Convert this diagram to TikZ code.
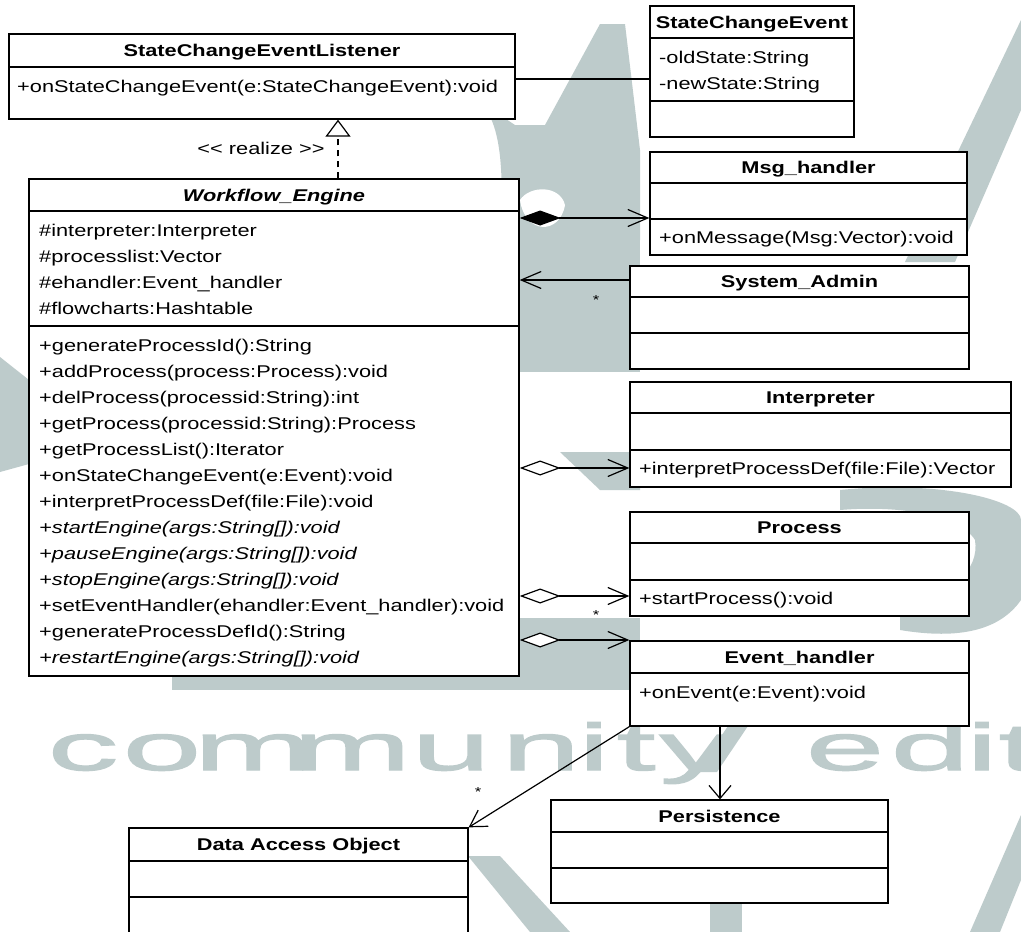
\documentclass[tikz,border=0pt]{standalone}
\usepackage{fontspec}
\setmainfont{Liberation Sans}[FakeStretch=1.28]
\newfontfamily\wmfont{Liberation Sans}[FakeStretch=2.15, FakeBold=2]
\usetikzlibrary{arrows.meta,fit}
\definecolor{wm}{RGB}{189,203,203}

\tikzset{
  cls/.style={draw, line width=1.3pt, inner sep=0pt, fill=white},
  sep/.style={line width=1.3pt},
  title/.style={font=\fontsize{17}{20}\selectfont\bfseries, anchor=base, inner sep=0pt},
  member/.style={font=\fontsize{17}{20}\selectfont, anchor=base west, inner sep=0pt},
  abstract/.style={member, font=\fontsize{17}{20}\selectfont\itshape},
  mult/.style={font=\fontsize{13}{14}\selectfont, inner sep=0pt},
  conn/.style={line width=1.2pt},
  barbh/.style={conn, -{Straight Barb[length=20pt, width=17pt, line width=1.2pt]}},
  barbv/.style={conn, -{Straight Barb[length=13pt, width=22pt, line width=1.2pt]}},
  barbd/.style={conn, -{Straight Barb[length=16pt, width=19pt, line width=1.2pt]}},
  compose/.style={conn, {Diamond[length=41pt, width=15pt]}-{Straight Barb[length=20pt, width=17pt, line width=1.2pt]}},
  aggregate/.style={conn, {Diamond[fill=white, length=41pt, width=15pt]}-{Straight Barb[length=20pt, width=17pt, line width=1.2pt]}},
  realize/.style={conn, dash pattern=on 6pt off 5pt, -{Triangle[fill=white, length=17pt, width=25pt]}},
  wmletter/.style={text=wm, font=\wmfont\fontsize{66}{66}\selectfont, anchor=base, inner sep=0pt},
  wmshape/.style={fill=wm, draw=none},
}

% class box: name, left, top, right, bottom
\newcommand\umlclass[5]{\node[cls, fit={(#2,#3) (#4,#5)}] (#1) {};}
% compartment separator: class name, y
\newcommand\umlsep[2]{\draw[sep] (#1.west |- 0,#2) -- (#1.east |- 0,#2);}

\begin{document}
\begin{tikzpicture}[x=1pt, y=-1pt]
\useasboundingbox (0,0) rectangle (1021,932);
\fill[white] (0,0) rectangle (1021,932);

% ---------- background logo ----------
\fill[wmshape] (0,357) -- (29,380) -- (29,464) -- (0,472) -- cycle;
\fill[wmshape] (470,95) .. controls (500,110) and (505,160) .. (500,240)
  -- (640,240) -- (640,150) -- (625,24) -- (600,24) -- (545,125) -- (515,125) -- cycle;
\fill[white] (520,200) .. controls (530,185) and (560,185) .. (565,205)
  .. controls (560,235) and (525,235) .. (520,200) -- cycle;
\fill[wmshape] (519,240) rectangle (640,372);
\fill[wmshape] (560,452) -- (640,452) -- (640,490) -- (600,490) -- cycle;
\fill[wmshape] (519,618) rectangle (640,690);
\fill[wmshape] (172,677) rectangle (640,690);
\fill[wmshape] (905,262) -- (955,262) -- (1021,110) -- (1021,20) -- cycle;
\fill[wmshape] (840,490) .. controls (940,480) and (1021,500) .. (1021,520)
  -- (1021,600) .. controls (1000,630) and (960,640) .. (900,630)
  -- (900,600) .. controls (950,600) and (980,570) .. (975,540)
  .. controls (960,515) and (900,505) .. (840,510) -- cycle;
\fill[wmshape] (697,772) -- (717,772) -- (748,726) -- (728,726) -- cycle;
\fill[wmshape] (468,856) -- (500,856) -- (570,932) -- (530,932) -- cycle;
\fill[wmshape] (710,904) rectangle (742,932);
\fill[wmshape] (970,932) -- (1000,932) -- (1021,880) -- (1021,815) -- cycle;

% watermark lettering
\foreach \ch/\cx [count=\i] in {c/83, o/162, m/253, m/352, u/451, n/541, i/594, t/636, y/695, e/845, d/930, i/982, t/1018}
  \node[wmletter] (wm\i) at (\cx,770) {\ch};

% ---------- classes ----------
\umlclass{lst}{9}{34}{515}{119}
\umlsep{lst}{67}
\node[title] (lst-t) at (262,56) {StateChangeEventListener};
\node[member] (lst-o1) at (17,92) {+onStateChangeEvent(e:StateChangeEvent):void};

\umlclass{sce}{650}{6}{854}{137}
\umlsep{sce}{38}
\umlsep{sce}{101}
\node[title] (sce-t) at (752,28) {StateChangeEvent};
\node[member] (sce-a1) at (659,63) {-oldState:String};
\node[member] (sce-a2) at (659,89) {-newState:String};

\umlclass{msg}{650}{152}{967}{255}
\umlsep{msg}{183}
\umlsep{msg}{219}
\node[title] (msg-t) at (808.5,173) {Msg\_handler};
\node[member] (msg-o1) at (659,243) {+onMessage(Msg:Vector):void};

\umlclass{we}{29}{179}{519}{676}
\umlsep{we}{211}
\umlsep{we}{326}
\node[title, font=\fontsize{17}{20}\selectfont\bfseries\itshape] (we-t) at (274,201) {Workflow\_Engine};
\node[member] (we-a1) at (39,236) {\#interpreter:Interpreter};
\node[member] (we-a2) at (39,262) {\#processlist:Vector};
\node[member] (we-a3) at (39,288) {\#ehandler:Event\_handler};
\node[member] (we-a4) at (39,314) {\#flowcharts:Hashtable};
\node[member] (we-o1) at (39,351) {+generateProcessId():String};
\node[member] (we-o2) at (39,377) {+addProcess(process:Process):void};
\node[member] (we-o3) at (39,403) {+delProcess(processid:String):int};
\node[member] (we-o4) at (39,429) {+getProcess(processid:String):Process};
\node[member] (we-o5) at (39,455) {+getProcessList():Iterator};
\node[member] (we-o6) at (39,481) {+onStateChangeEvent(e:Event):void};
\node[member] (we-o7) at (39,507) {+interpretProcessDef(file:File):void};
\node[abstract] (we-o8) at (39,533) {+startEngine(args:String[]):void};
\node[abstract] (we-o9) at (39,559) {+pauseEngine(args:String[]):void};
\node[abstract] (we-o10) at (39,585) {+stopEngine(args:String[]):void};
\node[member] (we-o11) at (39,611) {+setEventHandler(ehandler:Event\_handler):void};
\node[member] (we-o12) at (39,637) {+generateProcessDefId():String};
\node[abstract] (we-o13) at (39,663) {+restartEngine(args:String[]):void};

\umlclass{sa}{630}{266}{969}{369}
\umlsep{sa}{297}
\umlsep{sa}{333}
\node[title] (sa-t) at (799.5,287.5) {System\_Admin};

\umlclass{itp}{630}{382}{1011}{487}
\umlsep{itp}{413}
\umlsep{itp}{450}
\node[title] (itp-t) at (820.5,403.5) {Interpreter};
\node[member] (itp-o1) at (639,474) {+interpretProcessDef(file:File):Vector};

\umlclass{prc}{630}{512}{969}{616}
\umlsep{prc}{543}
\umlsep{prc}{580}
\node[title] (prc-t) at (799.5,533.5) {Process};
\node[member] (prc-o1) at (639,604) {+startProcess():void};

\umlclass{eh}{630}{641}{969}{726}
\umlsep{eh}{673}
\node[title] (eh-t) at (799.5,663) {Event\_handler};
\node[member] (eh-o1) at (639,698) {+onEvent(e:Event):void};

\umlclass{per}{551}{800}{888}{903}
\umlsep{per}{832}
\umlsep{per}{868}
\node[title] (per-t) at (719.5,822) {Persistence};

\umlclass{dao}{129}{828}{468}{950}
\umlsep{dao}{861}
\umlsep{dao}{897}
\node[title] (dao-t) at (298.5,850.5) {Data Access Object};

% ---------- relations ----------
\draw[conn] (lst.east |- 0,79) -- (sce.west |- 0,79);
\draw[realize] (we.north -| 338,0) -- (lst.south -| 338,0);
\node[member, anchor=center] (rl) at (261,148) {<{}< realize >{}>};
\draw[compose] (we.east |- 0,218) -- (msg.west |- 0,218);
\draw[barbh] (sa.west |- 0,280) -- (we.east |- 0,280);
\node[mult] (m1) at (596,300) {*};
\draw[aggregate] (we.east |- 0,468) -- (itp.west |- 0,468);
\draw[aggregate] (we.east |- 0,596) -- (prc.west |- 0,596);
\node[mult] (m2) at (596,615) {*};
\draw[aggregate] (we.east |- 0,640) -- (eh.west |- 0,640);
\draw[barbv] (eh.south -| 720,0) -- (per.north -| 720,0);
\draw[barbd] (eh.south west) -- (dao.north east);
\node[mult] (m3) at (478,792) {*};
\end{tikzpicture}
\end{document}
